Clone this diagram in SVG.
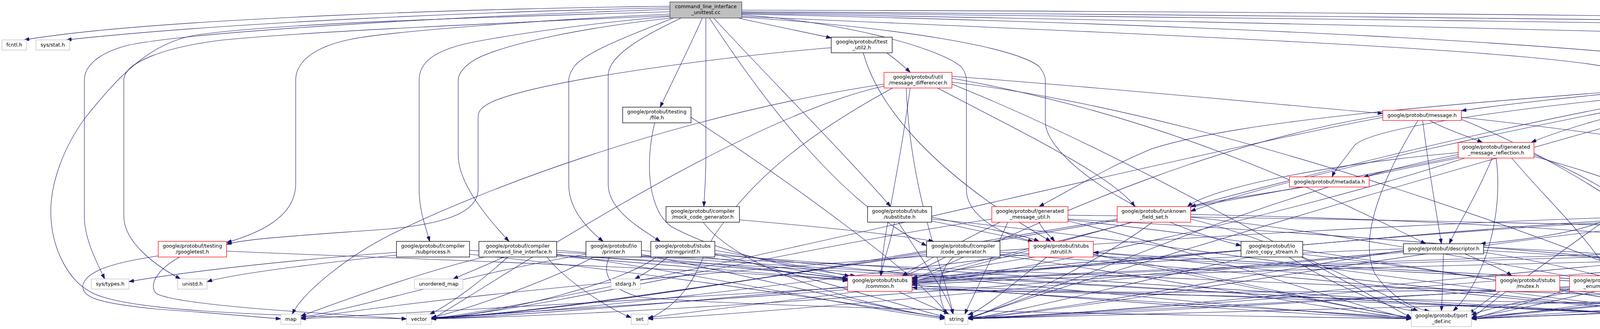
<svg xmlns="http://www.w3.org/2000/svg" width="6871" height="841" viewBox="0 0 6871 841">
<style>
.e{fill:none;stroke:#191970;stroke-width:1.1;marker-end:url(#a)}
rect{fill:#fff;stroke-width:1.3}
.k rect{stroke:#000}
.r rect{stroke:#ff0000}
.g rect{stroke:#bfbfbf}
.root rect{fill:#bfbfbf;stroke:#404040}
text{font-family:"DejaVu Sans","Liberation Sans",sans-serif;font-size:12.9px;text-anchor:middle;fill:#000}
</style>
<defs>
<marker id="a" markerUnits="userSpaceOnUse" markerWidth="14" markerHeight="10" refX="13" refY="4.5" orient="auto" viewBox="0 0 14 10">
<path d="M0,0 L13,4.5 L0,9 z" fill="#191970" stroke="#191970"/>
</marker>
</defs>
<rect x="0" y="0" width="6871" height="841" style="fill:#fff;stroke:none"/>
<g id="edges">
<path class="e" d="M1715,16 C1300,20 400,45 62,102"/>
<path class="e" d="M1715,20 C1300,28 600,55 170,102"/>
<path class="e" d="M1715,24 C1200,40 500,80 330,115 C250,135 216,170 216,205 L216,553 C216,610 245,665 268,713"/>
<path class="e" d="M1715,40 C1300,58 800,80 573,102 C420,120 317,160 317,205 L317,553 C317,620 400,680 462,713"/>
<path class="e" d="M1715,30 C1200,45 700,60 500,90 C380,110 300,200 219,300 C160,380 130,470 130,540 C130,640 180,720 230,745 C300,790 600,805 1041,815"/>
<path class="e" d="M1715,36 C1400,50 1000,80 900,100 C800,120 757,160 757,205 L757,470 C757,560 650,600 580,620"/>
<path class="e" d="M1715,42 C1500,60 1300,90 1200,110 C1110,130 1073,160 1073,205 L1073,483 C1073,540 1090,580 1100,617"/>
<path class="e" d="M1717,46 C1500,70 1300,110 1220,150 C1185,170 1173,190 1173,205 L1173,397 C1173,470 1250,560 1303,617"/>
<path class="e" d="M1724,46 C1640,80 1500,130 1470,170 C1460,185 1456,195 1456,205 L1456,472 C1456,540 1510,590 1544,617"/>
<path class="e" d="M1744,46 C1650,90 1560,140 1557,190 L1557,472 C1557,540 1650,590 1690,617"/>
<path class="e" d="M1798,46 C1770,110 1730,190 1690,274"/>
<path class="e" d="M1807,46 L1807,400 C1807,460 1803,500 1802,528"/>
<path class="e" d="M1816,46 C1950,250 2150,520 2372,628"/>
<path class="e" d="M1827,46 C1950,180 2150,380 2280,528"/>
<path class="e" d="M1890,46 C1950,60 2050,80 2128,97"/>
<path class="e" d="M1899,38 C2150,55 2400,120 2460,170 C2470,182 2474,195 2474,205 L2474,484 C2474,550 2560,600 2645,617"/>
<path class="e" d="M1899,44 C2300,70 2600,120 2660,170 C2672,185 2676,195 2676,205 L2676,311 C2676,400 2900,560 3177,628"/>
<path class="e" d="M1899,42 C3000,90 4000,130 4150,180 C4180,190 4188,195 4188,205 L4188,472 C4188,560 4050,600 3790,623"/>
<path class="e" d="M1899,36 C3000,60 4200,110 4585,191"/>
<path class="e" d="M1899,30 C3500,40 6200,70 6530,102"/>
<path class="e" d="M1899,26 C3500,28 6000,55 6724,95"/>
<path class="e" d="M1899,34 C4000,70 6300,130 6390,185 C6398,192 6402,200 6402,210 L6402,553 C6402,620 6350,680 6328,713"/>
<path class="e" d="M1899,32 C4500,60 6300,80 6420,150 C6445,170 6453,190 6453,210 L6453,644 C6453,720 6300,790 6060,812"/>
<path class="e" d="M2270,135 C2290,150 2310,165 2330,185"/>
<path class="e" d="M2128,122 C1900,140 1400,200 1260,260 C1230,275 1224,285 1224,300 L1224,483 C1224,540 1150,570 1000,585 C800,600 620,610 580,625"/>
<path class="e" d="M2210,135 C2250,280 2400,450 2690,617"/>
<path class="e" d="M2263,215 C1700,300 1200,500 1000,600 C900,650 780,740 748,803"/>
<path class="e" d="M2285,225 C2000,380 1900,500 1830,600 C1790,660 1780,760 1659,816"/>
<path class="e" d="M2263,220 C1900,300 1300,700 1104,817"/>
<path class="e" d="M2320,225 C2330,500 2420,700 2440,803"/>
<path class="e" d="M2437,200 C3000,300 3400,500 3650,623"/>
<path class="e" d="M2437,195 C2900,230 3300,270 3540,290"/>
<path class="e" d="M2400,225 C2600,330 2850,450 2905,528"/>
<path class="e" d="M2330,225 C2300,450 2260,600 2255,705"/>
<path class="e" d="M2437,215 C2900,400 3400,700 3613,812"/>
<path class="e" d="M2437,210 C3200,300 4200,700 4460,812"/>
<path class="e" d="M4737,205 C5500,215 6250,290 6330,340 C6345,352 6351,365 6351,375 L6351,553 C6351,650 6372,720 6372,803"/>
<path class="e" d="M4512,215 C4000,350 2800,700 2478,815"/>
<path class="e" d="M4540,217 C4300,450 3900,700 3767,815"/>
<path class="e" d="M4632,217 C4700,320 4780,480 4773,600 C4768,700 4700,790 4615,815"/>
<path class="e" d="M4512,210 C3800,300 2800,600 2335,720"/>
<path class="e" d="M4560,217 C4470,260 4440,320 4439,370 L4439,472 C4439,540 4465,590 4482,617"/>
<path class="e" d="M4737,214 C5300,250 5800,300 5835,360 C5843,370 5846,375 5846,380 L5846,553 C5846,630 5920,690 5964,713"/>
<path class="e" d="M4737,210 C4950,230 5000,300 5010,360 L5012,472 C5012,540 4990,590 4960,623"/>
<path class="e" d="M4737,212 C5000,225 5140,260 5160,330 C5163,345 5164,360 5164,370 L5164,557 C5164,620 5100,680 5060,705"/>
<path class="e" d="M4512,205 C3800,260 3200,300 2950,380 C2850,420 2750,480 2660,528"/>
<path class="e" d="M4737,215 C5100,240 5240,280 5260,330 C5265,345 5266,360 5266,370 L5266,553 C5266,620 5320,680 5357,705"/>
<path class="e" d="M4515,217 C4000,260 3500,320 3465,375 C3440,410 3420,430 3410,452"/>
<path class="e" d="M4512,203 C4200,230 3900,260 3741,283"/>
<path class="e" d="M4737,208 C5200,220 5400,280 5425,340 C5431,355 5433,365 5433,370 L5433,472 C5433,540 5460,590 5480,617"/>
<path class="e" d="M4622,217 C4600,350 4585,450 4578,528"/>
<path class="e" d="M4530,217 C4400,260 4340,320 4340,375 L4340,563 C4340,630 4250,680 4186,705"/>
<path class="e" d="M4512,212 C4000,300 3300,450 3048,540"/>
<path class="e" d="M4512,208 C4200,270 4000,330 3920,364"/>
<path class="e" d="M4737,217 C5500,240 6100,300 6160,360 C6170,370 6173,375 6173,380 L6173,644 C6173,720 6000,800 5822,815"/>
<path class="e" d="M1769,300 C2000,450 2350,700 2425,803"/>
<path class="e" d="M1676,314 C1650,420 1660,540 1720,580 C1850,650 2050,690 2190,705"/>
<path class="e" d="M3660,308 C3700,330 3760,350 3795,364"/>
<path class="e" d="M3642,308 C3660,450 3680,560 3690,623"/>
<path class="e" d="M3630,308 C3560,420 3470,600 3520,700 C3560,760 3620,790 3660,795"/>
<path class="e" d="M3540,300 C3000,400 1600,750 1104,815"/>
<path class="e" d="M3540,295 C3000,380 2500,650 2335,715"/>
<path class="e" d="M3741,300 C4500,380 5700,600 5920,713"/>
<path class="e" d="M3741,305 C4100,450 4400,700 4480,795"/>
<path class="e" d="M3820,404 C3780,500 3730,580 3710,623"/>
<path class="e" d="M3830,404 C3850,550 3800,720 3720,795"/>
<path class="e" d="M3870,404 C3950,500 4080,620 4120,705"/>
<path class="e" d="M3733,404 C3650,420 3550,440 3490,453"/>
<path class="e" d="M3733,390 C3400,420 3100,480 3040,528"/>
<path class="e" d="M3733,395 C3200,500 2700,750 2478,812"/>
<path class="e" d="M3733,400 C3000,550 1500,800 1104,813"/>
<path class="e" d="M3750,404 C3300,550 2600,700 2335,725"/>
<path class="e" d="M3927,400 C4300,500 4550,650 4600,705"/>
<path class="e" d="M3927,395 C4200,500 4420,720 4470,795"/>
<path class="e" d="M3340,478 C3200,500 3100,515 3048,528"/>
<path class="e" d="M1893,562 C2100,580 2300,600 2390,617"/>
<path class="e" d="M1800,568 C1900,700 2250,790 2419,812"/>
<path class="e" d="M2290,568 C2280,620 2260,670 2255,705"/>
<path class="e" d="M2385,555 C2500,580 2620,600 2660,617"/>
<path class="e" d="M2300,568 C2350,650 2420,740 2440,803"/>
<path class="e" d="M2385,565 C2800,650 3400,780 3613,812"/>
<path class="e" d="M2385,560 C3000,620 4000,780 4460,812"/>
<path class="e" d="M2660,568 C2670,590 2690,605 2700,617"/>
<path class="e" d="M2560,568 C2450,620 2350,680 2310,705"/>
<path class="e" d="M2580,568 C2530,680 2480,780 2470,803"/>
<path class="e" d="M2539,560 C2000,640 1400,790 1104,815"/>
<path class="e" d="M2734,560 C3500,600 4400,680 4580,705"/>
<path class="e" d="M2734,550 C3500,560 5000,590 5420,617"/>
<path class="e" d="M2734,565 C3100,650 3450,780 3613,815"/>
<path class="e" d="M2734,562 C3300,620 4200,780 4460,815"/>
<path class="e" d="M2900,568 C2700,620 2450,680 2335,712"/>
<path class="e" d="M2950,568 C2800,680 2550,790 2478,815"/>
<path class="e" d="M2860,560 C2300,650 1500,800 1104,812"/>
<path class="e" d="M3048,548 C3600,560 4200,590 4429,630"/>
<path class="e" d="M3048,560 C3300,620 3550,760 3630,795"/>
<path class="e" d="M3048,555 C3500,600 4300,760 4470,795"/>
<path class="e" d="M4560,568 C4540,590 4520,605 4510,617"/>
<path class="e" d="M4477,548 C3500,560 1500,700 770,815"/>
<path class="e" d="M4477,555 C3800,600 2900,780 2478,815"/>
<path class="e" d="M4671,550 C5200,580 5600,780 5763,815"/>
<path class="e" d="M4477,552 C3500,580 1800,790 1104,815"/>
<path class="e" d="M4477,545 C3800,570 2800,680 2335,720"/>
<path class="e" d="M4671,545 C5000,560 5300,590 5430,617"/>
<path class="e" d="M4500,568 C4300,650 3900,780 3767,815"/>
<path class="e" d="M4560,568 C4540,650 4530,740 4530,795"/>
<path class="e" d="M405,654 C300,670 220,690 212,730 C210,760 250,775 400,790 C550,800 650,810 719,815"/>
<path class="e" d="M460,657 C400,690 380,730 400,750 C450,780 800,800 1041,815"/>
<path class="e" d="M580,642 C1000,660 1900,690 2170,718"/>
<path class="e" d="M1015,645 C800,660 500,690 330,720"/>
<path class="e" d="M1015,652 C800,675 600,700 530,720"/>
<path class="e" d="M1202,650 C1700,700 2200,780 2419,812"/>
<path class="e" d="M1202,640 C1600,660 2000,690 2170,713"/>
<path class="e" d="M1240,657 C1100,690 900,760 770,808"/>
<path class="e" d="M1290,657 C1240,680 1190,700 1160,713"/>
<path class="e" d="M1400,657 C1450,720 1560,790 1616,812"/>
<path class="e" d="M1425,650 C1800,700 2200,790 2419,815"/>
<path class="e" d="M1425,645 C2500,700 4800,780 5763,812"/>
<path class="e" d="M1300,657 C1230,720 1150,780 1100,803"/>
<path class="e" d="M1425,640 C1700,660 2000,690 2175,715"/>
<path class="e" d="M1425,655 C2000,700 3000,790 3613,815"/>
<path class="e" d="M1425,652 C2300,700 3800,790 4460,812"/>
<path class="e" d="M1642,650 C1900,700 2250,790 2419,812"/>
<path class="e" d="M1500,650 C1200,700 950,780 770,812"/>
<path class="e" d="M1520,657 C1400,720 1200,790 1104,812"/>
<path class="e" d="M1642,640 C1850,660 2050,690 2170,712"/>
<path class="e" d="M1560,657 C1540,700 1560,740 1640,760 C2000,790 3000,805 3613,815"/>
<path class="e" d="M1642,655 C2500,710 3800,790 4460,815"/>
<path class="e" d="M1710,657 C1680,680 1650,700 1625,713"/>
<path class="e" d="M1830,650 C2050,700 2300,780 2419,810"/>
<path class="e" d="M1680,657 C1600,720 1300,800 1104,815"/>
<path class="e" d="M1830,640 C1950,660 2100,690 2175,706"/>
<path class="e" d="M1830,648 C2300,700 3200,790 3613,815"/>
<path class="e" d="M1830,652 C2500,700 3900,790 4460,815"/>
<path class="e" d="M2420,657 C2380,680 2330,700 2310,705"/>
<path class="e" d="M2442,657 C2400,690 2395,760 2425,803"/>
<path class="e" d="M2560,645 C3500,680 5000,780 5763,815"/>
<path class="e" d="M2372,650 C2000,700 1400,800 1104,815"/>
<path class="e" d="M2560,652 C2900,700 3400,790 3613,815"/>
<path class="e" d="M2560,650 C3200,690 4100,790 4460,815"/>
<path class="e" d="M2650,657 C2500,680 2400,700 2335,710"/>
<path class="e" d="M2634,650 C2200,700 1500,800 1104,812"/>
<path class="e" d="M2799,650 C3100,700 3450,790 3613,812"/>
<path class="e" d="M2799,645 C3300,690 4100,790 4460,812"/>
<path class="e" d="M2680,657 C2600,720 2520,790 2478,805"/>
<path class="e" d="M3200,657 C2900,720 2600,800 2478,815"/>
<path class="e" d="M3177,640 C2900,660 2500,690 2335,718"/>
<path class="e" d="M3300,657 C3400,720 3550,790 3625,795"/>
<path class="e" d="M3335,650 C3800,700 4250,790 4460,815"/>
<path class="e" d="M3750,649 C3800,670 3850,690 3870,705"/>
<path class="e" d="M3695,649 C3694,700 3692,760 3690,795"/>
<path class="e" d="M3798,640 C4500,680 5500,780 5980,815"/>
<path class="e" d="M3593,645 C3000,700 2000,800 1659,815"/>
<path class="e" d="M3593,640 C3200,700 2700,800 2478,812"/>
<path class="e" d="M3593,642 C3000,700 1800,800 1104,815"/>
<path class="e" d="M3593,636 C3200,650 2600,690 2335,712"/>
<path class="e" d="M3798,632 C4200,650 4500,680 4590,705"/>
<path class="e" d="M3798,645 C4100,690 4350,780 4460,800"/>
<path class="e" d="M4429,650 C3800,700 2900,800 2478,815"/>
<path class="e" d="M4570,650 C5000,700 5500,790 5763,815"/>
<path class="e" d="M4429,640 C3800,660 2800,690 2335,722"/>
<path class="e" d="M4440,657 C4200,720 3900,790 3767,812"/>
<path class="e" d="M4520,657 C4530,700 4535,760 4537,795"/>
<path class="e" d="M4829,640 C4000,700 2900,800 2478,813"/>
<path class="e" d="M5044,640 C5400,660 5800,690 5920,713"/>
<path class="e" d="M4829,636 C4000,660 2800,690 2335,725"/>
<path class="e" d="M4850,649 C4500,720 4000,790 3767,815"/>
<path class="e" d="M4900,649 C4800,700 4680,780 4615,810"/>
<path class="e" d="M5044,645 C5400,690 5650,790 5763,812"/>
<path class="e" d="M5500,657 C5600,720 5720,790 5763,810"/>
<path class="e" d="M5591,650 C5900,690 6200,780 6327,812"/>
<path class="e" d="M5404,650 C4500,700 3000,800 2478,815"/>
<path class="e" d="M5404,640 C4500,660 3000,690 2335,728"/>
<path class="e" d="M5591,640 C5750,660 5900,690 5950,713"/>
<path class="e" d="M5404,655 C4800,720 4000,790 3767,815"/>
<path class="e" d="M5430,657 C5200,700 4800,790 4615,815"/>
<path class="e" d="M2170,735 C1800,760 1000,800 770,815"/>
<path class="e" d="M2335,740 C3500,760 5000,800 5980,815"/>
<path class="e" d="M2200,745 C2000,770 1750,800 1659,812"/>
<path class="e" d="M2300,745 C2350,770 2400,790 2430,803"/>
<path class="e" d="M2170,740 C1800,770 1300,800 1104,812"/>
<path class="e" d="M2335,735 C2800,760 3300,790 3613,812"/>
<path class="e" d="M2335,730 C3000,750 4000,790 4460,812"/>
<path class="e" d="M3840,745 C3800,770 3780,790 3760,800"/>
<path class="e" d="M3993,740 C4200,760 4400,790 4460,805"/>
<path class="e" d="M4018,735 C3500,760 2800,800 2478,815"/>
<path class="e" d="M4018,712 C3600,690 3000,660 2799,645"/>
<path class="e" d="M4030,745 C3900,770 3800,790 3767,805"/>
<path class="e" d="M4180,745 C4300,770 4420,790 4470,800"/>
<path class="e" d="M4705,735 C5100,760 5500,800 5763,812"/>
<path class="e" d="M4541,738 C4200,770 3900,800 3767,812"/>
<path class="e" d="M4570,745 C4560,770 4550,785 4548,795"/>
<path class="e" d="M4932,735 C4500,770 4000,800 3767,815"/>
<path class="e" d="M4960,745 C4800,770 4680,790 4615,808"/>
<path class="e" d="M4932,725 C4000,740 2800,760 2335,735"/>
<path class="e" d="M5303,735 C4500,760 3000,805 2478,815"/>
<path class="e" d="M5476,735 C5600,760 5700,790 5763,808"/>
<path class="e" d="M5303,740 C4800,770 4000,805 3767,815"/>
<path class="e" d="M5320,745 C5100,770 4800,800 4615,812"/>
<path class="e" d="M5970,739 C5900,770 5850,795 5822,808"/>
<path class="e" d="M6084,735 C6200,760 6290,790 6327,812"/>
<path class="e" d="M5906,730 C5000,760 4000,805 3767,815"/>
<path class="e" d="M5906,735 C5300,760 4800,805 4615,815"/>
<path class="e" d="M6320,739 C6335,760 6345,780 6350,803"/>
<path class="e" d="M6280,739 C6200,770 6100,800 6058,808"/>
</g>
<g id="n_root" class="root"><rect x="1715" y="5" width="184" height="41"/><text x="1807" y="21">command_line_interface</text><text x="1807" y="36">_unittest.cc</text></g>
<g id="n_fcntl" class="g"><rect x="5" y="102" width="63" height="26"/><text x="36.5" y="119">fcntl.h</text></g>
<g id="n_sysstat" class="g"><rect x="92" y="102" width="86" height="26"/><text x="135" y="119">sys/stat.h</text></g>
<g id="n_test_util2" class="k"><rect x="2128" y="95" width="156" height="40"/><text x="2206" y="111">google/protobuf/test</text><text x="2206" y="126">_util2.h</text></g>
<g id="n_unittest_pb" class="g"><rect x="6490" y="102" width="211" height="26"/><text x="6595.5" y="119">google/protobuf/unittest.pb.h</text></g>
<g id="n_io_win32" class="k"><rect x="6724" y="95" width="142" height="40"/><text x="6795" y="111">google/protobuf/io</text><text x="6795" y="126">/io_win32.h</text></g>
<g id="n_msgdiff" class="r"><rect x="2263" y="185" width="174" height="40"/><text x="2350" y="201">google/protobuf/util</text><text x="2350" y="216">/message_differencer.h</text></g>
<g id="n_descpb" class="k"><rect x="4512" y="191" width="225" height="26"/><text x="4624.5" y="208">google/protobuf/descriptor.pb.h</text></g>
<g id="n_file" class="k"><rect x="1594" y="274" width="175" height="40"/><text x="1681.5" y="290">google/protobuf/testing</text><text x="1681.5" y="305">/file.h</text></g>
<g id="n_message" class="r"><rect x="3540" y="282" width="201" height="26"/><text x="3640.5" y="299">google/protobuf/message.h</text></g>
<g id="n_gmr" class="r"><rect x="3733" y="364" width="194" height="40"/><text x="3830" y="380">google/protobuf/generated</text><text x="3830" y="395">_message_reflection.h</text></g>
<g id="n_metadata" class="r"><rect x="3301" y="452" width="204" height="26"/><text x="3403" y="469">google/protobuf/metadata.h</text></g>
<g id="n_mockcg" class="k"><rect x="1705" y="528" width="188" height="40"/><text x="1799" y="544">google/protobuf/compiler</text><text x="1799" y="559">/mock_code_generator.h</text></g>
<g id="n_substitute" class="k"><rect x="2221" y="528" width="164" height="40"/><text x="2303" y="544">google/protobuf/stubs</text><text x="2303" y="559">/substitute.h</text></g>
<g id="n_gmu" class="r"><rect x="2539" y="528" width="195" height="40"/><text x="2636.5" y="544">google/protobuf/generated</text><text x="2636.5" y="559">_message_util.h</text></g>
<g id="n_ufs" class="r"><rect x="2860" y="528" width="188" height="40"/><text x="2954" y="544">google/protobuf/unknown</text><text x="2954" y="559">_field_set.h</text></g>
<g id="n_extset" class="r"><rect x="4477" y="528" width="194" height="40"/><text x="4574" y="544">google/protobuf/extension</text><text x="4574" y="559">_set.h</text></g>
<g id="n_googletest" class="r"><rect x="405" y="617" width="175" height="40"/><text x="492.5" y="633">google/protobuf/testing</text><text x="492.5" y="648">/googletest.h</text></g>
<g id="n_subprocess" class="k"><rect x="1015" y="617" width="187" height="40"/><text x="1108.5" y="633">google/protobuf/compiler</text><text x="1108.5" y="648">/subprocess.h</text></g>
<g id="n_cli" class="k"><rect x="1226" y="617" width="199" height="40"/><text x="1325.5" y="633">google/protobuf/compiler</text><text x="1325.5" y="648">/command_line_interface.h</text></g>
<g id="n_printer" class="k"><rect x="1500" y="617" width="142" height="40"/><text x="1571" y="633">google/protobuf/io</text><text x="1571" y="648">/printer.h</text></g>
<g id="n_stringprintf" class="k"><rect x="1666" y="617" width="164" height="40"/><text x="1748" y="633">google/protobuf/stubs</text><text x="1748" y="648">/stringprintf.h</text></g>
<g id="n_codegen" class="k"><rect x="2372" y="617" width="188" height="40"/><text x="2466" y="633">google/protobuf/compiler</text><text x="2466" y="648">/code_generator.h</text></g>
<g id="n_strutil" class="r"><rect x="2634" y="617" width="165" height="40"/><text x="2716.5" y="633">google/protobuf/stubs</text><text x="2716.5" y="648">/strutil.h</text></g>
<g id="n_zcs" class="k"><rect x="3177" y="617" width="158" height="40"/><text x="3256" y="633">google/protobuf/io</text><text x="3256" y="648">/zero_copy_stream.h</text></g>
<g id="n_descriptor" class="k"><rect x="3593" y="623" width="205" height="26"/><text x="3695.5" y="640">google/protobuf/descriptor.h</text></g>
<g id="n_coded" class="r"><rect x="4429" y="617" width="141" height="40"/><text x="4499.5" y="633">google/protobuf/io</text><text x="4499.5" y="648">/coded_stream.h</text></g>
<g id="n_arenastring" class="r"><rect x="4829" y="623" width="215" height="26"/><text x="4936.5" y="640">google/protobuf/arenastring.h</text></g>
<g id="n_repeated" class="r"><rect x="5404" y="617" width="187" height="40"/><text x="5497.5" y="633">google/protobuf/repeated</text><text x="5497.5" y="648">_field.h</text></g>
<g id="n_systypes" class="g"><rect x="234" y="713" width="96" height="26"/><text x="282" y="730">sys/types.h</text></g>
<g id="n_unistd" class="g"><rect x="455" y="713" width="75" height="26"/><text x="492.5" y="730">unistd.h</text></g>
<g id="n_unordered_map" class="g"><rect x="1061" y="713" width="124" height="26"/><text x="1123" y="730">unordered_map</text></g>
<g id="n_stdarg" class="g"><rect x="1564" y="713" width="75" height="26"/><text x="1601.5" y="730">stdarg.h</text></g>
<g id="n_common" class="r"><rect x="2170" y="705" width="165" height="40"/><text x="2252.5" y="721">google/protobuf/stubs</text><text x="2252.5" y="736">/common.h</text></g>
<g id="n_mutex" class="r"><rect x="3829" y="705" width="164" height="40"/><text x="3911" y="721">google/protobuf/stubs</text><text x="3911" y="736">/mutex.h</text></g>
<g id="n_genum" class="r"><rect x="4018" y="705" width="194" height="40"/><text x="4115" y="721">google/protobuf/generated</text><text x="4115" y="736">_enum_reflection.h</text></g>
<g id="n_once" class="r"><rect x="4541" y="705" width="164" height="40"/><text x="4623" y="721">google/protobuf/stubs</text><text x="4623" y="736">/once.h</text></g>
<g id="n_gmtd" class="r"><rect x="4932" y="705" width="195" height="40"/><text x="5029.5" y="721">google/protobuf/generated</text><text x="5029.5" y="736">_message_table_driven.h</text></g>
<g id="n_inlined" class="r"><rect x="5303" y="705" width="173" height="40"/><text x="5389.5" y="721">google/protobuf/inlined</text><text x="5389.5" y="736">_string_field.h</text></g>
<g id="n_arena" class="r"><rect x="5906" y="713" width="178" height="26"/><text x="5995" y="730">google/protobuf/arena.h</text></g>
<g id="n_gtest" class="r"><rect x="6260" y="713" width="105" height="26"/><text x="6312.5" y="730">gtest/gtest.h</text></g>
<g id="n_map" class="g"><rect x="719" y="803" width="51" height="26"/><text x="744.5" y="820">map</text></g>
<g id="n_vector" class="g"><rect x="1041" y="803" width="63" height="26"/><text x="1072.5" y="820">vector</text></g>
<g id="n_set" class="g"><rect x="1616" y="803" width="43" height="26"/><text x="1637.5" y="820">set</text></g>
<g id="n_string" class="g"><rect x="2419" y="803" width="59" height="26"/><text x="2448.5" y="820">string</text></g>
<g id="n_port_def" class="g"><rect x="3613" y="795" width="154" height="40"/><text x="3690" y="811">google/protobuf/port</text><text x="3690" y="826">_def.inc</text></g>
<g id="n_port_undef" class="g"><rect x="4460" y="795" width="155" height="40"/><text x="4537.5" y="811">google/protobuf/port</text><text x="4537.5" y="826">_undef.inc</text></g>
<g id="n_utility" class="g"><rect x="5763" y="803" width="59" height="26"/><text x="5792.5" y="820">utility</text></g>
<g id="n_memory" class="g"><rect x="5980" y="803" width="78" height="26"/><text x="6019" y="820">memory</text></g>
<g id="n_limits" class="g"><rect x="6327" y="803" width="59" height="26"/><text x="6356.5" y="820">limits</text></g>
</svg>
